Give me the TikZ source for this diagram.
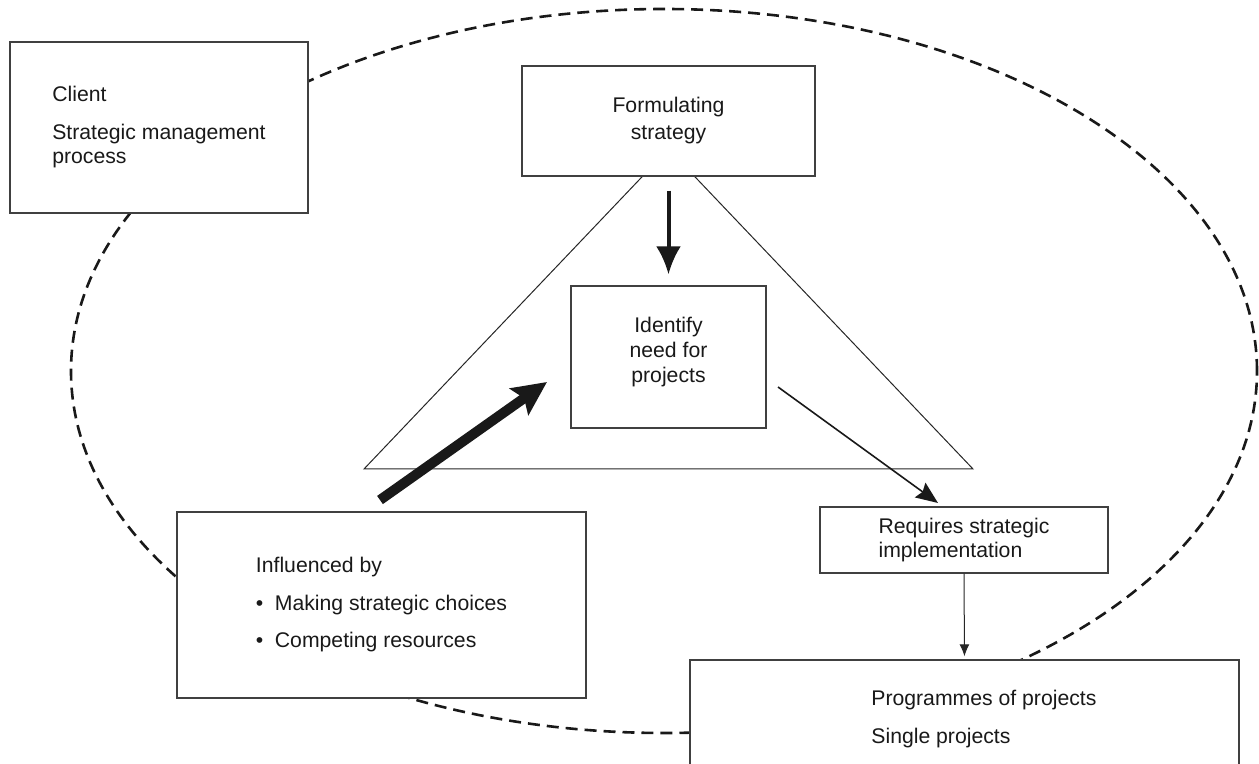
\documentclass[tikz,border=0pt]{standalone}
\usepackage{fontspec}
\setmainfont{Liberation Sans}
\usetikzlibrary{arrows.meta}
\begin{document}
\begin{tikzpicture}[x=0.5pt,y=-0.5pt,
  box/.style={draw=black!75, line width=0.7pt, fill=white, inner sep=0pt,
    font=\fontsize{10.6}{12}\selectfont, text=black!90},
  txt/.style={inner sep=0pt, font=\fontsize{10.6}{12}\selectfont, text=black!90},
  dashring/.style={draw=black!90, line width=1.3pt, dash pattern=on 6pt off 3.5pt},
  thinline/.style={draw=black!85, line width=0.5pt},
]
\useasboundingbox (0,0) rectangle (1259,764);
\clip (0,0) rectangle (1259,764);

% dashed ellipse
\draw[dashring] (664,371) ellipse [x radius=296.5pt, y radius=181pt];

% triangle
\draw[thinline, line join=miter] (364,469) -- (668.5,149) -- (973,469) -- cycle;

% boxes
\node[box, minimum width=149pt, minimum height=85.5pt, align=left] (client) at (159,127.5)
  {Client\\[7pt]Strategic management\\process};
\node[box, minimum width=146.5pt, minimum height=55pt, align=center] (form) at (668.5,121)
  {Formulating\\[1.5pt]strategy};
\node[box, minimum width=97.5pt, minimum height=71pt] (ident) at (668.5,357) {};
\node[txt, align=center] (identtext) at (668.5,352)
  {Identify\\[0.5pt]need for\\[0.5pt]projects};
\node[box, minimum width=144pt, minimum height=33pt, align=left] (req) at (964,540)
  {Requires strategic\\implementation};
\node[box, minimum width=204.5pt, minimum height=93pt, align=left] (infl) at (381.5,605)
  {Influenced by\\[6.75pt]\makebox[9.5pt][l]{•}Making strategic choices\\[6.75pt]\makebox[9.5pt][l]{•}Competing resources};
\node[box, minimum width=274.5pt, minimum height=59pt] (prog) at (964.5,719) {};
\node[txt, anchor=west, align=left] (progtext) at (871,719)
  {Programmes of projects\\[7pt]Single projects};

% arrows
\draw[draw=black!90, line width=2pt, -{Latex[length=14pt,width=12.5pt]},
  shorten <=7pt, shorten >=5.5pt] (form.south) -- (ident.north);

\coordinate (d1) at (380,500);
\coordinate (d2) at (547,382);
\draw[draw=black!90, line width=5pt, -{Stealth[length=17pt,width=16pt,inset=3pt]}] (d1) -- (d2);

\coordinate (t1) at (778,387);
\coordinate (t2) at (938,503);
\draw[draw=black!90, line width=0.8pt, -{Stealth[length=11pt,width=9pt,inset=1.5pt]}] (t1) -- (t2);

\draw[draw=black!85, line width=0.5pt, -{Latex[length=6pt,width=5pt]}, shorten >=1.5pt]
  (req.south) -- (prog.north);
\end{tikzpicture}
\end{document}
